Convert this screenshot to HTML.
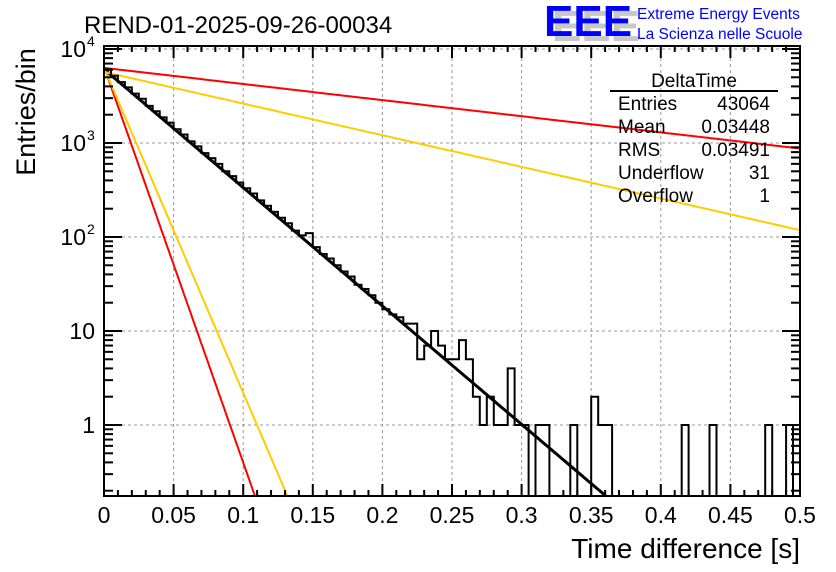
<!DOCTYPE html>
<html><head><meta charset="utf-8"><style>
html,body{margin:0;padding:0;background:#fff;width:836px;height:572px;overflow:hidden;}
svg{display:block;font-family:"Liberation Sans",sans-serif;}
</style></head><body>
<svg id="c" width="836" height="572" xmlns="http://www.w3.org/2000/svg">
<text x="84" y="33" font-size="24">REND-01-2025-09-26-00034</text>
<g>
<text x="548" y="38" font-size="44" fill="#c8c8c8" font-weight="bold" transform="translate(4,3)">EEE</text>
<text x="544" y="36" font-size="44" fill="#0000ff" font-weight="bold">EEE</text>
</g>
<text x="637" y="19" font-size="15.5" fill="#0000ff">Extreme Energy Events</text>
<text x="637" y="39" font-size="15.5" fill="#0000ff">La Scienza nelle Scuole</text>
<text x="800" y="558" font-size="28" text-anchor="end">Time difference [s]</text>
<text transform="translate(35,112) rotate(-90)" font-size="27" text-anchor="middle">Entries/bin</text>
<g id="grid"></g><g id="fits"></g><g id="hist"></g><g id="axes"></g>
<g font-size="19">
<text x="694" y="87" text-anchor="middle">DeltaTime</text>
<line x1="610" y1="91" x2="778" y2="91" stroke="#000" stroke-width="2"/>
<text x="618" y="110">Entries</text><text x="770" y="110" text-anchor="end">43064</text>
<text x="618" y="133">Mean</text><text x="770" y="133" text-anchor="end">0.03448</text>
<text x="618" y="156">RMS</text><text x="770" y="156" text-anchor="end">0.03491</text>
<text x="618" y="179">Underflow</text><text x="770" y="179" text-anchor="end">31</text>
<text x="618" y="202">Overflow</text><text x="770" y="202" text-anchor="end">1</text>
</g>
</svg>
<script>
const binWidth = 0.005;
const counts = [6100,5200,4450,3900,3350,2950,2480,2180,1870,1650,1400,1230,1040,920,780,690,600,500,445,380,330,290,245,215,185,160,140,117,104,110,78,66,59,50,43,38,31,28,24,20,17,15,14,12,12,5,7,10,7,5,5,8,5,2,1,2,1,1,4,1,1,0,1,1,0,0,0,1,0,0,2,1,1,0,0,0,0,0,0,0,0,0,0,1,0,0,0,1,0,0,0,0,0,0,0,1,0,0,1,0];
const fitAmps = [6100, 6500, 6300, 6300, 5700];
const fitSlopes = [29, 97, 79.6, 3.95, 7.75];
const fitColors = ["#000","#ff0000","#ffcc00","#ff0000","#ffcc00"];
const xTicks = [0,0.05,0.1,0.15,0.2,0.25,0.3,0.35,0.4,0.45,0.5];
const xTickLabels = ["0","0.05","0.1","0.15","0.2","0.25","0.3","0.35","0.4","0.45","0.5"];
const yTicks = [1,10,100,1000,10000];

const X0=104,X1=800,Y0=496,Y1=46;
function sx(v){return X0+(v-0)/(0.5)*(X1-X0);}
function sy(v){if(v<=0)return Y0+5;return 425-94*Math.log10(v);}
const NS="http://www.w3.org/2000/svg";
function mk(t,a,p){const e=document.createElementNS(NS,t);for(const k in a)e.setAttribute(k,a[k]);p.appendChild(e);return e;}
const svg=document.getElementById('c');
const defs=mk('defs',{},svg);
const cp=mk('clipPath',{id:'pc'},defs);mk('rect',{x:X0,y:Y1,width:X1-X0,height:Y0-Y1},cp);

const grid=document.getElementById('grid');
xTicks.forEach((t,i)=>{if(i==0||i==xTicks.length-1)return;const l=mk('line',{x1:sx(t),x2:sx(t),y1:Y1,y2:Y0,stroke:'#999','stroke-dasharray':'3,3'},grid);

});
yTicks.forEach(t=>{const y=sy(t);if(y<Y1)return;const l=mk('line',{x1:X0,x2:X1,y1:y,y2:y,stroke:'#999','stroke-dasharray':'3,3'},grid);

});

const fits=document.getElementById('fits');
fitAmps.forEach((A,i)=>{let d='';for(let k=0;k<=400;k++){const t=k/400*0.5;const v=A*Math.exp(-fitSlopes[i]*t);d+=(k?'L':'M')+sx(t).toFixed(1)+','+sy(v).toFixed(1);}
const p=mk('path',{d:d,fill:'none',stroke:fitColors[i],'stroke-width':i==0?3:2,'clip-path':'url(#pc)'},fits);

});

const hist=document.getElementById('hist');
let d='M'+sx(0)+','+sy(counts[0]);
counts.forEach((c,i)=>{const y=Math.min(sy(c),Y0+5);d+='L'+sx(i*binWidth).toFixed(1)+','+y.toFixed(1)+'L'+sx((i+1)*binWidth).toFixed(1)+','+y.toFixed(1);});
const hp=mk('path',{d:d,fill:'none',stroke:'#000','stroke-width':2,'clip-path':'url(#pc)'},hist);



const ax=document.getElementById('axes');
const fr=mk('rect',{x:X0,y:Y1,width:X1-X0,height:Y0-Y1,fill:'none',stroke:'#000','stroke-width':2},ax);


for(let k=0;k<=50;k++){const t=k*0.01;const x=sx(t);const L=(k%5==0)?12:6;
mk('line',{x1:x,x2:x,y1:Y0,y2:Y0-L,stroke:'#000','stroke-width':2},ax);
mk('line',{x1:x,x2:x,y1:Y1,y2:Y1+L,stroke:'#000','stroke-width':2},ax);}
xTicks.forEach((t,i)=>{const e=mk('text',{x:sx(t),y:523,'font-size':23,'text-anchor':'middle'},ax);e.textContent=xTickLabels[i];

});
for(let dec=-1;dec<=4;dec++){for(let m=1;m<=9;m++){const v=m*Math.pow(10,dec);const y=sy(v);if(y>Y0||y<Y1)continue;const L=m==1?18:9;
mk('line',{x1:X0,x2:X0+L,y1:y,y2:y,stroke:'#000','stroke-width':2},ax);
mk('line',{x1:X1,x2:X1-L,y1:y,y2:y,stroke:'#000','stroke-width':2},ax);}}
const ylab=[["1",""],["10",""],["10","2"],["10","3"],["10","4"]];
yTicks.forEach((t,i)=>{const y=sy(t)+8;const e=mk('text',{x:ylab[i][1]?86:95,y:y,'font-size':23,'text-anchor':'end'},ax);e.textContent=ylab[i][0];


if(ylab[i][1]){const s=mk('text',{x:87,y:y-11,'font-size':14},ax);s.textContent=ylab[i][1];

}});
</script>
</body></html>
